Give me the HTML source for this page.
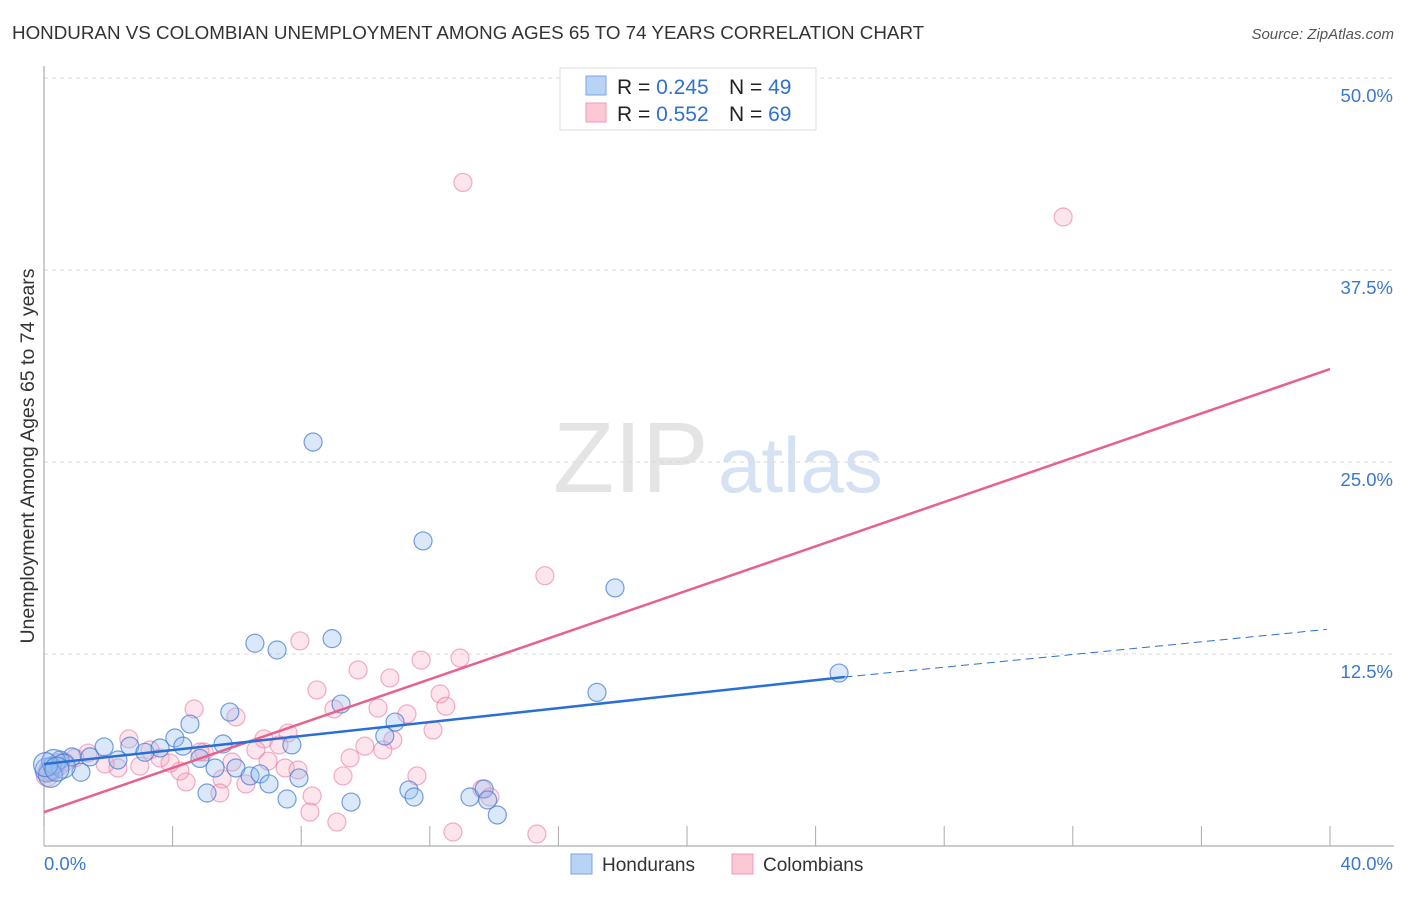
<!DOCTYPE html>
<html><head><meta charset="utf-8"><style>
body{margin:0;background:#fff;font-family:"Liberation Sans",sans-serif;}
svg text{font-family:"Liberation Sans",sans-serif;}
</style></head><body>
<svg id="c" width="1406" height="892" xmlns="http://www.w3.org/2000/svg">
<text x="12" y="39" font-size="18.8" fill="#333">HONDURAN VS COLOMBIAN UNEMPLOYMENT AMONG AGES 65 TO 74 YEARS CORRELATION CHART</text>
<text x="1394" y="39" font-size="15" fill="#555" font-style="italic" text-anchor="end">Source: ZipAtlas.com</text>
<text x="553" y="492" font-size="100" fill="#e4e4e4" font-family="Liberation Serif">ZIP</text>
<text x="718" y="492" font-size="78" fill="#d4e2f4">atlas</text>
<text transform="translate(34,456) rotate(-90)" font-size="19.5" fill="#333" text-anchor="middle">Unemployment Among Ages 65 to 74 years</text>
<g id="grid"></g><g id="pts"></g><g id="lines"></g>
<g>
<rect x="560" y="68" width="256" height="62" fill="#fff" stroke="#ddd"/>
<rect x="586" y="76" width="20" height="19" fill="#b8d3f4" stroke="#7aa6e0"/>
<rect x="586" y="103" width="20" height="19" fill="#fcc8d6" stroke="#f09ab2"/>
<text x="617" y="94" font-size="21" fill="#222">R = <tspan fill="#3070d0">0.245</tspan></text>
<text x="729" y="94" font-size="21" fill="#222">N = <tspan fill="#3070d0">49</tspan></text>
<text x="617" y="121" font-size="21" fill="#222">R = <tspan fill="#3070d0">0.552</tspan></text>
<text x="729" y="121" font-size="21" fill="#222">N = <tspan fill="#3070d0">69</tspan></text>
</g>
<g>
<rect x="571" y="854" width="21" height="20" fill="#b8d3f4" stroke="#7aa6e0"/>
<text x="602" y="871" font-size="19" fill="#333">Hondurans</text>
<rect x="732" y="854" width="21" height="20" fill="#fcc8d6" stroke="#f09ab2"/>
<text x="763" y="871" font-size="19" fill="#333">Colombians</text>
</g>
</svg>
<script>
const yTicks=[12.5,25,37.5,50];
const yTickLabels=["12.5%","25.0%","37.5%","50.0%"];
const xTickVals=[0,4,8,12,16,20,24,28,32,36,40];
const hondX=[8.37,11.79,17.76,24.73,17.2,8.96,6.56,7.25,9.24,5.78,4.54,10.92,7.71,5.57,4.07,4.32,2.67,3.14,3.61,1.87,2.3,0.87,1.43,0.5,0.25,1.15,4.85,5.32,5.97,6.41,6.72,7.0,7.93,5.07,7.56,9.55,10.6,11.35,11.51,13.25,13.69,13.8,14.1,0.1,0.3,0.6,0.2,0.05,0.4];
const hondY=[26.3,19.86,16.8,11.26,10.0,13.5,13.2,12.76,9.24,8.72,7.94,8.07,6.58,6.64,7.03,6.5,6.5,6.1,6.38,6.45,5.6,5.8,5.8,5.6,5.2,4.8,5.7,5.08,5.08,4.56,4.69,4.04,4.43,3.45,3.06,2.86,7.16,3.65,3.19,3.19,3.71,3.0,2.02,4.95,5.5,5.2,4.6,5.3,5.0];
const colX=[13.03,31.7,15.58,7.96,12.94,11.73,9.77,10.76,8.49,12.32,12.5,9.02,10.39,4.67,5.97,11.29,12.1,7.59,6.84,2.64,9.98,10.85,6.59,7.31,10.54,9.52,6.97,5.85,4.98,3.3,3.61,2.98,2.3,1.9,1.37,0.96,0.65,0.34,0.12,4.23,4.42,4.85,5.54,6.28,5.47,7.5,7.9,8.34,8.27,9.3,9.11,11.6,12.72,13.62,13.87,15.33,3.92,0.2,0.1,0.45];
const colY=[43.2,40.95,17.6,13.35,12.24,12.1,11.46,10.94,10.16,9.9,9.1,8.92,8.98,8.92,8.4,8.6,7.55,7.36,6.97,6.97,6.5,6.9,6.25,6.58,6.25,5.73,5.53,5.47,6.12,6.25,5.73,5.2,5.08,5.34,6.05,5.73,5.47,4.95,4.82,4.88,4.17,6.12,4.36,4.04,3.45,5.08,4.95,3.26,2.21,4.56,1.56,4.56,0.91,3.71,3.19,0.78,5.4,5.0,4.6,5.3];
const hondTrendX=[0,24.9,39.9];
const hondTrendY=[5.34,11.0,14.1];
const colTrendX=[0,40];
const colTrendY=[2.2,31.05];
const NS="http://www.w3.org/2000/svg";
const xs=v=>44+v*32.15, ys=v=>846-v*15.36;
function mk(t,a,p){const e=document.createElementNS(NS,t);for(const k in a)e.setAttribute(k,a[k]);p.appendChild(e);return e;}
const grid=document.getElementById('grid');
yTicks.forEach((t,i)=>{
 const l=mk('line',{x1:44,x2:1394,y1:ys(t),y2:ys(t),stroke:'#d8d8d8','stroke-dasharray':'4,4'},grid);
 
 
 const tx=mk('text',{x:1393,y:ys(t)+24,'font-size':18.5,fill:'#3a78d0','text-anchor':'end'},grid);
 tx.textContent=yTickLabels[i];
 
 
});
const ax=mk('line',{x1:44,x2:44,y1:66,y2:846,stroke:'#999'},grid);


const bx=mk('line',{x1:44,x2:1394,y1:846,y2:846,stroke:'#999'},grid);


xTickVals.forEach(v=>{const t=mk('line',{x1:xs(v),x2:xs(v),y1:826,y2:846,stroke:'#aaa'},grid);
 
 });
const x0=mk('text',{x:44,y:870,'font-size':18.5,fill:'#3a78d0'},grid);x0.textContent='0.0%';


const x1=mk('text',{x:1393,y:870,'font-size':18.5,fill:'#3a78d0','text-anchor':'end'},grid);x1.textContent='40.0%';


const pts=document.getElementById('pts');
colX.forEach((v,i)=>{const c=mk('circle',{cx:xs(v),cy:ys(colY[i]),r:i>=57?11:9,fill:'rgba(248,170,195,0.3)',stroke:'rgba(235,120,160,0.6)','stroke-width':1.2},pts);
 
 });
hondX.forEach((v,i)=>{const c=mk('circle',{cx:xs(v),cy:ys(hondY[i]),r:i>=43?12:9,fill:'rgba(150,190,240,0.35)',stroke:'rgba(60,120,210,0.7)','stroke-width':1.2},pts);
 
 });
const lines=document.getElementById('lines');
const pl=mk('line',{x1:xs(colTrendX[0]),y1:ys(colTrendY[0]),x2:xs(colTrendX[1]),y2:ys(colTrendY[1]),stroke:'#e8608c','stroke-width':2.5},lines);


const bl=mk('line',{x1:xs(hondTrendX[0]),y1:ys(hondTrendY[0]),x2:xs(hondTrendX[1]),y2:ys(hondTrendY[1]),stroke:'#2a6fd6','stroke-width':2.5},lines);


const bd=mk('line',{x1:xs(hondTrendX[1]),y1:ys(hondTrendY[1]),x2:xs(hondTrendX[2]),y2:ys(hondTrendY[2]),stroke:'#2a6fd6','stroke-width':1,'stroke-dasharray':'8,5'},lines);


</script>
</body></html>
